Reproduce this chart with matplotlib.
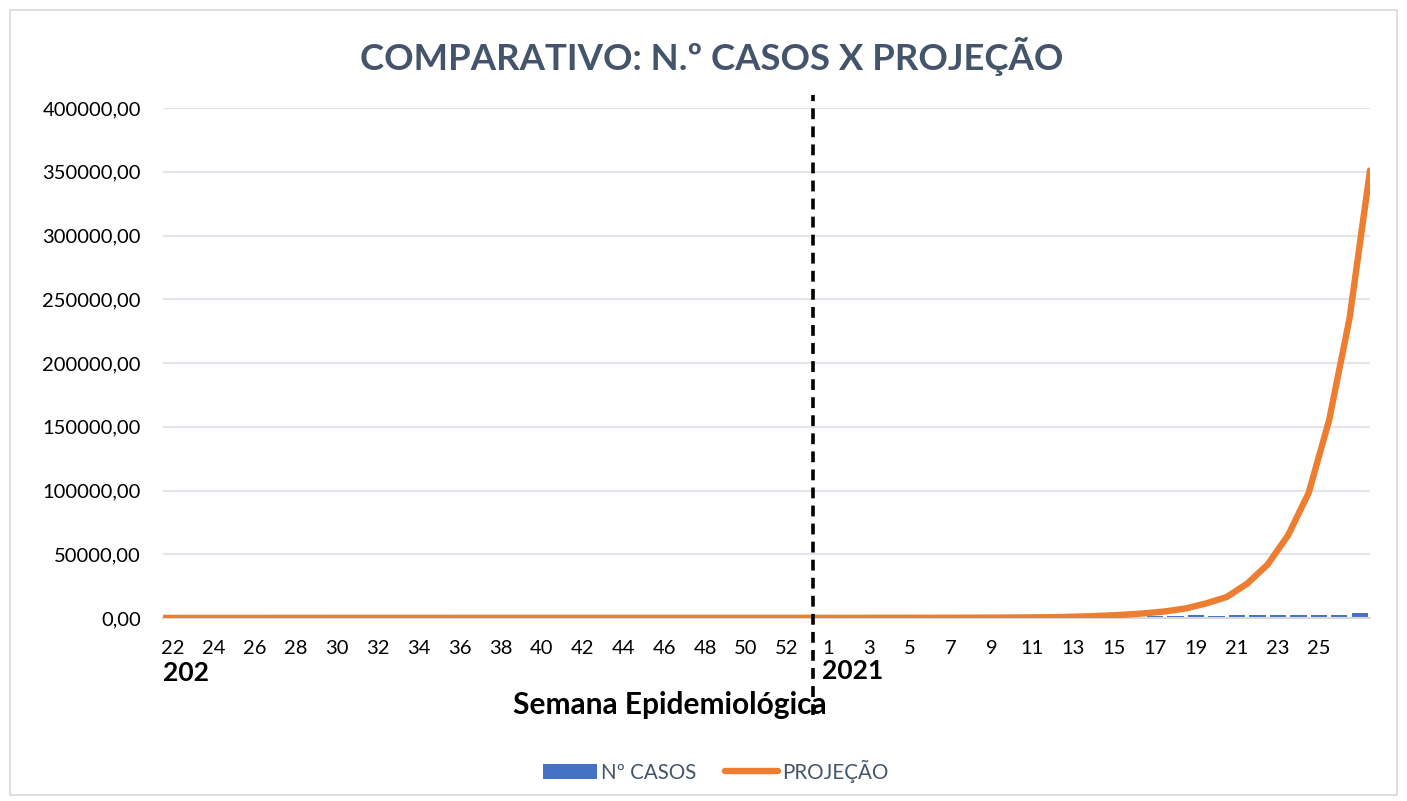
import numpy as np
import matplotlib.pyplot as plt
from matplotlib.patches import Rectangle
from matplotlib.lines import Line2D
from matplotlib.ticker import FuncFormatter
import matplotlib.transforms as mtransforms

plt.rcParams['font.family'] = ['Lato', 'DejaVu Sans']

# semanas epidemiológicas (2020: 22..53, 2021: 1..27)
weeks_2020 = list(range(22, 54))
weeks_2021 = list(range(1, 28))
year_labels = ["202", "2021"]

# nº de casos por semana (barras)
casos_2020 = [20, 35, 50, 70, 90, 110, 130, 140, 150, 160, 150, 140, 130, 120, 110, 100,
              100, 110, 120, 130, 140, 150, 170, 190, 210, 230, 250, 260, 270, 280, 300, 320]
casos_2021 = [340, 360, 380, 400, 420, 450, 480, 520, 560, 600, 650, 700, 760, 820,
              900, 1000, 1500, 1900, 2000, 1900, 2200, 2000, 2000, 2600, 2600, 2400, 4000]

# projeção nos limites das semanas (início da sem. 22/2020 até fim da sem. 27/2021)
projecao = [60, 65, 72, 78, 80, 85, 88, 90, 92, 95, 97, 98, 100, 100, 102, 104,
            105, 106, 108, 108, 110, 110, 111, 112, 113, 114, 115, 116, 117, 118, 119, 120,
            120, 130, 140, 150, 160, 180, 200, 230, 270, 330, 420, 550, 800, 1200,
            1800, 2600, 3700, 5200, 7500, 11500, 16500, 27000, 42000, 65000, 98000,
            155000, 235000, 351000]

casos = casos_2020 + casos_2021
n_weeks = len(casos)
centers = np.arange(n_weeks) + 0.5
bounds = np.arange(len(projecao))

W, H = 1407, 801
fig = plt.figure(figsize=(W / 100, H / 100), dpi=100)
fig.patches.append(Rectangle((10 / W, 6 / H), 1387 / W, 785 / H, transform=fig.transFigure,
                             facecolor='white', edgecolor='#D9D9D9', lw=1.2, zorder=-10))

ax = fig.add_axes([163 / W, 1 - 618 / H, (1370 - 163) / W, (618 - 108) / H])
bars = ax.bar(centers, casos, width=0.8, color='#4472C4', zorder=2, label='Nº CASOS')
line, = ax.plot(bounds, projecao, color='#ED7D31', lw=4.6, solid_capstyle='round',
                solid_joinstyle='round', zorder=3, label='PROJEÇÃO')

ax.set_xlim(0, n_weeks)
ax.set_ylim(0, 400000)
ax.set_yticks(np.arange(0, 400001, 50000))
ax.yaxis.set_major_formatter(FuncFormatter(lambda v, p: f"{v:.2f}".replace('.', ',')))
ax.grid(axis='y', color='#E1E4EA', lw=1.5, zorder=0)
for s in ['top', 'right', 'left']:
    ax.spines[s].set_visible(False)
ax.spines['bottom'].set_color('#D9D9D9')
ax.spines['bottom'].set_linewidth(1.5)

# rótulos das semanas (a cada 2)
labels = [str(w) for w in weeks_2020] + [str(w) for w in weeks_2021]
tick_idx = list(range(0, 32, 2)) + list(range(32, n_weeks - 1, 2))
ax.set_xticks(centers[tick_idx])
ax.set_xticklabels([labels[i] for i in tick_idx])
ax.tick_params(axis='both', length=0, labelsize=14.5, colors='black')
ax.tick_params(axis='y', pad=16)
ax.tick_params(axis='x', pad=16)

# nível dos anos
trans = mtransforms.blended_transform_factory(ax.transData, ax.transAxes)
ax.text(0.0, -0.108, year_labels[0], transform=trans, ha='left', va='center',
        fontsize=19, fontweight='bold')
ax.text(32.2, -0.103, year_labels[1], transform=trans, ha='left', va='center',
        fontsize=19, fontweight='bold')

# divisão entre os anos
ax.add_line(Line2D([31.75, 31.75], [-0.19, 1.025], transform=trans, color='black',
                   lw=2.6, ls=(0, (3, 2)), clip_on=False, zorder=4))

fig.text(670 / W, 1 - 705 / H, 'Semana Epidemiológica', ha='center', va='center',
         fontsize=21.5, fontweight='bold')
fig.text(712 / W, 1 - 57 / H, 'COMPARATIVO: N.º CASOS X PROJEÇÃO', ha='center', va='center',
         fontsize=26.3, fontweight='bold', color='#44546A')

fig.legend(handles=[bars, line], loc='center', bbox_to_anchor=(716 / W, 1 - 771 / H),
           ncol=2, frameon=False, fontsize=14.8, labelcolor='#44546A', handlelength=2.6,
           handletextpad=0.2, columnspacing=1.4)

fig.savefig('out.png', dpi=100)
